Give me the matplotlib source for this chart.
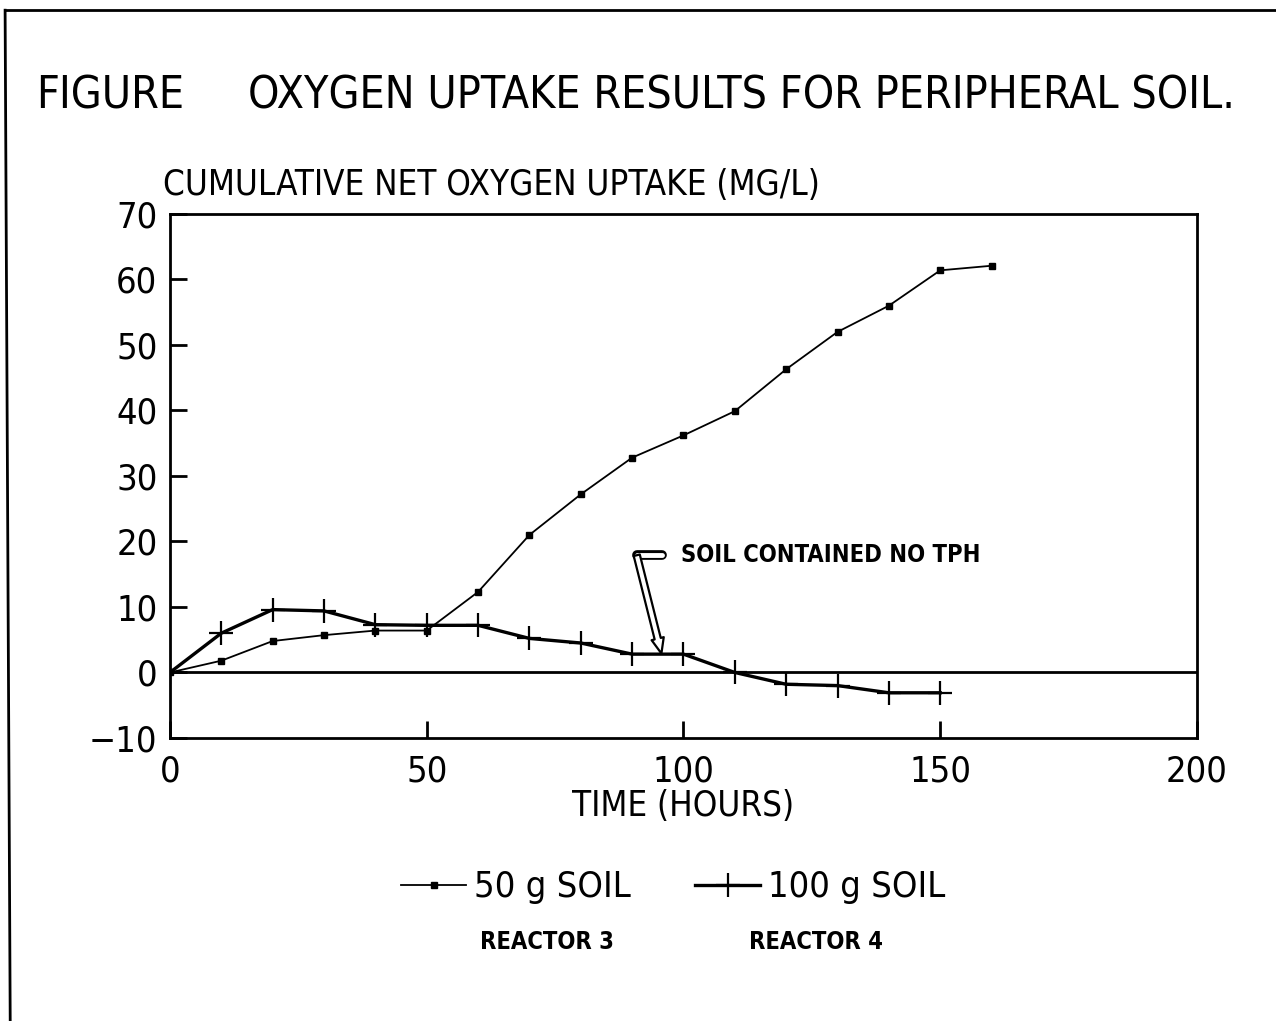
import matplotlib
matplotlib.use("Agg")
import matplotlib.pyplot as plt
from matplotlib.lines import Line2D

plt.rcParams['font.family'] = ['DejaVu Sans']
plt.rcParams['font.stretch'] = 'condensed'

# data
hours = [0, 10, 20, 30, 40, 50, 60, 70, 80, 90, 100, 110, 120, 130, 140, 150, 160]
soil50 = [0, 1.8, 4.8, 5.7, 6.4, 6.4, 12.3, 21.0, 27.2, 32.8, 36.2, 39.9, 46.3, 52.0, 56.0, 61.4, 62.1]
hours100 = [0, 10, 20, 30, 40, 50, 60, 70, 80, 90, 100, 110, 120, 130, 140, 150]
soil100 = [0, 6.0, 9.6, 9.4, 7.3, 7.2, 7.2, 5.2, 4.5, 2.8, 2.8, 0, -1.8, -2.0, -3.1, -3.1]

xticks = [0, 50, 100, 150, 200]
yticks = [-10, 0, 10, 20, 30, 40, 50, 60, 70]

note_text = "SOIL CONTAINED NO TPH"
note_tip = (95.7, 2.9)
note_tail = (90.9, 17.9)
note_pos = (99.6, 17.9)

fig = plt.figure(figsize=(12.76, 10.21), dpi=100)
ax = fig.add_axes([0.1332, 0.2772, 0.8049, 0.5132])

ax.plot(hours, soil50, color="black", lw=1.3, marker="s", ms=4.5,
        label="50 g SOIL")
ax.plot(hours100, soil100, color="black", lw=2.4, marker="+", ms=17,
        mew=1.6, label="100 g SOIL")
ax.axhline(0, color="black", lw=2)

ax.annotate("", xy=note_tip, xytext=note_tail,
            arrowprops=dict(arrowstyle="simple,head_length=1.1,head_width=0.9,tail_width=0.45",
                            fc="white", ec="black", lw=1.6, shrinkA=0, shrinkB=0))
ax.plot([note_tail[0], note_tail[0] + 5], [note_tail[1], note_tail[1]],
        color="black", lw=7, solid_capstyle="round")
ax.plot([note_tail[0], note_tail[0] + 5], [note_tail[1], note_tail[1]],
        color="white", lw=3.5, solid_capstyle="round")
ax.text(note_pos[0], note_pos[1], note_text, fontsize=17, fontweight="bold",
        va="center", ha="left")

ax.set_xlim(0, 200)
ax.set_ylim(-10, 70)
ax.set_xticks(xticks)
ax.set_yticks(yticks)
ax.tick_params(direction="in", length=12, width=2, labelsize=26, pad=9)
ax.tick_params(axis="x", pad=12)
for s in ax.spines.values():
    s.set_linewidth(2)

ax.set_xlabel("TIME (HOURS)", fontsize=25, labelpad=0)

fig.text(0.028, 0.906, "FIGURE", fontsize=32, va="center", ha="left")
fig.text(248 / 1276, 0.906, "OXYGEN UPTAKE RESULTS FOR PERIPHERAL SOIL.", fontsize=32,
         va="center", ha="left")
fig.text(163 / 1276, 1 - 185 / 1021, "CUMULATIVE NET OXYGEN UPTAKE (MG/L)",
         fontsize=25, va="center", ha="left")

leg = ax.legend(loc="center", bbox_to_anchor=(0.49, -0.285), ncol=2, frameon=False,
                fontsize=26, handlelength=1.8, handletextpad=0.2, columnspacing=1.8)

fig.text(547 / 1276, 1 - 942 / 1021, "REACTOR 3", fontsize=17, fontweight="bold",
         ha="center", va="center")
fig.text(816 / 1276, 1 - 942 / 1021, "REACTOR 4", fontsize=17, fontweight="bold",
         ha="center", va="center")

# scanned page border
fig.add_artist(Line2D([0.004, 1.0], [0.99, 0.99], color="black", lw=2))
fig.add_artist(Line2D([0.004, 0.008], [0.99, 0.0], color="black", lw=2))

fig.savefig("out.png", dpi=100)
